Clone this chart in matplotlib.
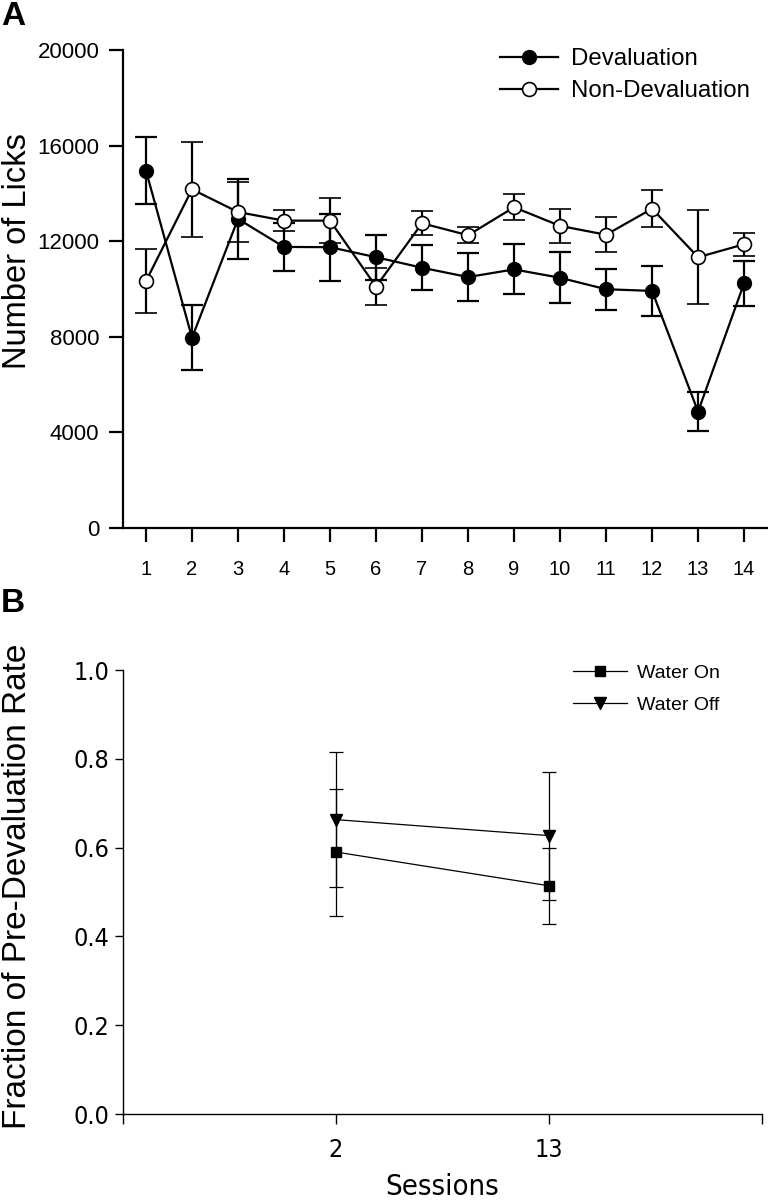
import matplotlib
matplotlib.use("Agg")
import matplotlib.pyplot as plt
from matplotlib import font_manager
from matplotlib.lines import Line2D

# ---------------- data ----------------
sessions = list(range(1, 15))
deval_mean = [14950, 7960, 12930, 11760, 11750, 11330, 10890, 10500, 10820, 10470, 9990, 9920, 4870, 10240]
deval_sem = [1400, 1350, 1660, 990, 1400, 950, 950, 1000, 1050, 1070, 860, 1050, 800, 950]
nondeval_mean = [10330, 14170, 13220, 12860, 12860, 10100, 12750, 12250, 13420, 12640, 12270, 13360, 11330, 11870]
nondeval_sem = [1350, 2000, 1270, 445, 950, 790, 500, 330, 550, 720, 730, 770, 1970, 470]

b_sessions = ["2", "13"]
water_on_mean = [0.590, 0.514]
water_on_sem = [0.143, 0.086]
water_off_mean = [0.663, 0.627]
water_off_sem = [0.152, 0.144]

# ---------------- fonts ----------------
avail = {f.name for f in font_manager.fontManager.ttflist}
base = "Liberation Sans" if "Liberation Sans" in avail else "DejaVu Sans"
if "Liberation Sans Narrow" in avail:
    narrow, nstretch = "Liberation Sans Narrow", "normal"
else:
    narrow, nstretch = "DejaVu Sans", "condensed"
plt.rcParams["font.family"] = [base, "DejaVu Sans"]

fig = plt.figure(figsize=(7.68, 12.0), dpi=100)

# ---------------- Panel A ----------------
A_w = 768 - 123
axA = fig.add_axes([123 / 768, 1 - 528 / 1200, A_w / 768, (528 - 50) / 1200])
lw = 1.6
axA.errorbar(sessions, deval_mean, yerr=deval_sem, color="black", lw=lw, marker="o",
             ms=10, mfc="black", mec="black", capsize=8, capthick=lw, elinewidth=lw,
             zorder=3)
axA.errorbar(sessions, nondeval_mean, yerr=nondeval_sem, color="black", lw=lw, marker="o",
             ms=10, mfc="white", mec="black", mew=1.2, capsize=8, capthick=lw, elinewidth=lw,
             zorder=4)
axA.set_xlim(0.5, 14.52)
axA.set_ylim(0, 20000)
axA.set_yticks([0, 4000, 8000, 12000, 16000, 20000])
axA.set_xticks(sessions)
for s in ["top", "right"]:
    axA.spines[s].set_visible(False)
for s in ["left", "bottom"]:
    axA.spines[s].set_linewidth(1.6)
axA.tick_params(axis="y", direction="out", length=10, width=1.6, pad=7, labelsize=16)
axA.tick_params(axis="x", direction="out", length=10, width=1.6, pad=13, labelsize=14.5)
axA.set_ylabel("Number of Licks", fontsize=23.5)
axA.yaxis.set_label_coords(-(123 - 33) / A_w, 0.58)
handlesA = [Line2D([], [], color="black", lw=lw, marker="o", ms=10, mfc="black", mec="black"),
            Line2D([], [], color="black", lw=lw, marker="o", ms=10, mfc="white", mec="black", mew=1.2)]
axA.legend(handlesA, ["Devaluation", "Non-Devaluation"], loc="upper left",
           bbox_to_anchor=(500 / 768, 1 - 48 / 1200), bbox_transform=fig.transFigure,
           frameon=False, fontsize=17.3, handlelength=2.4, handletextpad=0.55,
           labelspacing=0.42, borderpad=0, borderaxespad=0)
fig.text(1 / 768, 1 - 1 / 1200, "A", fontsize=24, fontweight="bold", va="top", ha="left")

# ---------------- Panel B ----------------
B_w = 762 - 123
axB = fig.add_axes([123 / 768, 1 - 1114 / 1200, B_w / 768, (1114 - 670) / 1200])
lwb = 0.9
xb = [1, 2]
axB.errorbar(xb, water_on_mean, yerr=water_on_sem, color="black", lw=lwb, marker="s",
             ms=7.5, mfc="black", mec="black", capsize=5, capthick=lwb, elinewidth=lwb,
             zorder=3)
axB.errorbar(xb, water_off_mean, yerr=water_off_sem, color="black", lw=lwb, marker="v",
             ms=9, mfc="black", mec="black", capsize=5, capthick=lwb, elinewidth=lwb,
             zorder=3)
axB.set_xlim(0, 3)
axB.set_ylim(0, 1.0)
axB.set_yticks([0.0, 0.2, 0.4, 0.6, 0.8, 1.0])
axB.set_yticklabels(["0.0", "0.2", "0.4", "0.6", "0.8", "1.0"])
axB.set_xticks([0, 1, 2, 3])
axB.set_xticklabels(["", b_sessions[0], b_sessions[1], ""])
for s in ["top", "right"]:
    axB.spines[s].set_visible(False)
for s in ["left", "bottom"]:
    axB.spines[s].set_linewidth(1.0)
axB.tick_params(axis="y", direction="out", length=6, width=1.0, pad=4)
axB.tick_params(axis="x", direction="out", length=7, width=1.0, pad=10)
for lab in axB.get_xticklabels() + axB.get_yticklabels():
    lab.set_fontfamily([narrow, "DejaVu Sans"])
    lab.set_fontstretch(nstretch)
    lab.set_fontsize(18)
axB.set_ylabel("Fraction of Pre-Devaluation Rate", fontsize=24)
axB.yaxis.set_label_coords(-(123 - 33) / B_w, 0.513)
axB.set_xlabel("Sessions", fontsize=21, labelpad=8, family=[narrow, "DejaVu Sans"],
               fontstretch=nstretch)
handlesB = [Line2D([], [], color="black", lw=lwb, marker="s", ms=7.5, mfc="black", mec="black"),
            Line2D([], [], color="black", lw=lwb, marker="v", ms=9, mfc="black", mec="black")]
axB.legend(handlesB, ["Water On", "Water Off"], loc="upper left",
           bbox_to_anchor=(573 / 768, 1 - 664 / 1200), bbox_transform=fig.transFigure,
           frameon=False, fontsize=14, handlelength=2.8, handletextpad=0.5,
           labelspacing=0.75, borderpad=0, borderaxespad=0)
fig.text(1 / 768, 1 - 588 / 1200, "B", fontsize=24, fontweight="bold", va="top", ha="left")

fig.savefig("out.png", dpi=100)
